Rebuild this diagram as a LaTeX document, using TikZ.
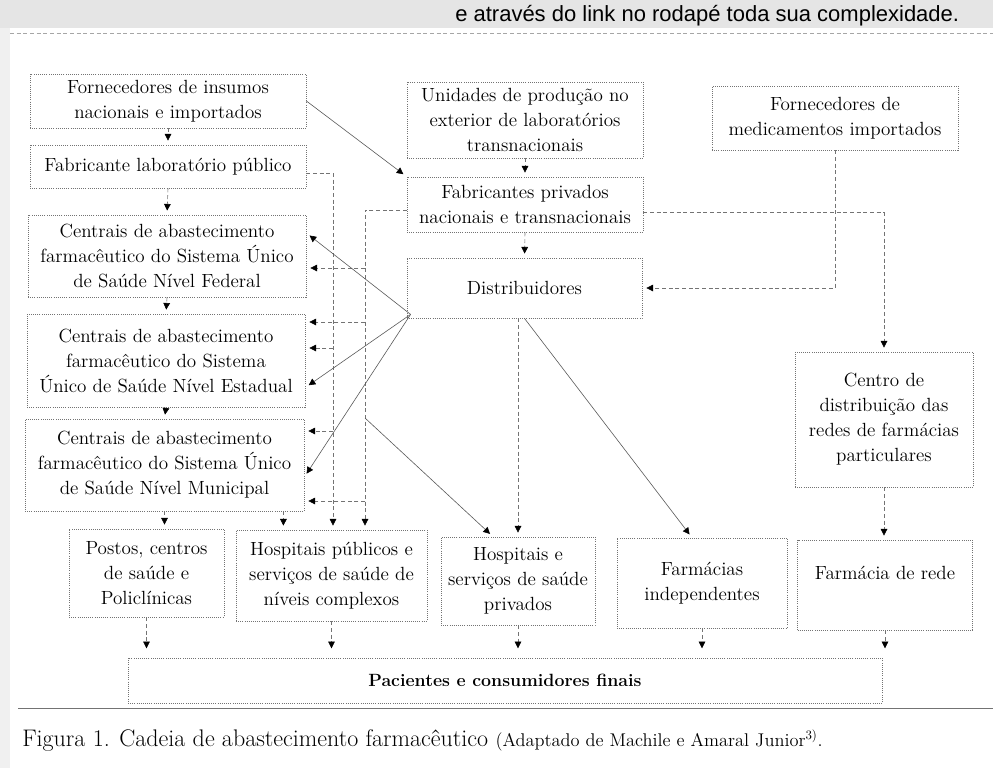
\documentclass[tikz,border=0pt]{standalone}
\usepackage{fontspec}
\newfontfamily\topfont{Liberation Sans}
\usetikzlibrary{arrows.meta,shapes,calc}
\newcommand{\boxfont}{\fontsize{14.3}{18.75}\selectfont}
\tikzstyle{box}=[draw=black!55,densely dotted,line width=0.6pt,align=center,inner sep=2pt,font=\boxfont]
\tikzstyle{edge}=[draw=black!55,line width=0.45pt,densely dashed,-{Triangle[length=5pt,width=5pt,color=black]},shorten >=3pt]
\tikzstyle{diag}=[draw=black!65,line width=0.45pt,-{Triangle[length=5pt,width=5pt,color=black]},shorten >=3pt]

\begin{document}
\begin{tikzpicture}[x=0.75pt,y=-0.75pt]
        \useasboundingbox (0,0) rectangle (993,768);
        % page edge and the line of text above
        \fill[black!10] (0,0) rectangle (993,28);
        \fill[black!6] (0,28) rectangle (10,768);
        \node[anchor=base west,inner sep=0pt,font=\topfont\fontsize{16.5}{18}\selectfont] (topline) at (455,21) {e através do link no rodapé toda sua complexidade.};
        \draw[black!35,densely dashed] (10,33) -- (993,33);
        % public side
        \node[box,minimum width=207pt,minimum height=40.5pt] (insumos) at (168,101) {Fornecedores de insumos\\nacionais e importados};
        \node[box,minimum width=207pt,minimum height=32.25pt] (fablab) at (168,166.5) {Fabricante laboratório público};
        \node[box,minimum width=208.5pt,minimum height=61.5pt] (cfed) at (167,256) {Centrais de abastecimento\\farmacêutico do Sistema Único\\de Saúde Nível Federal};
        \node[box,minimum width=208.5pt,minimum height=69.75pt] (cest) at (166,360.5) {Centrais de abastecimento\\farmacêutico do Sistema\\Único de Saúde Nível Estadual};
        \node[box,minimum width=209.25pt,minimum height=69pt] (cmun) at (164.5,465) {Centrais de abastecimento\\farmacêutico do Sistema Único\\de Saúde Nível Municipal};
        % private side
        \node[box,minimum width=177pt,minimum height=57pt] (unidades) at (525,120) {Unidades de produção no\\exterior de laboratórios\\transnacionais};
        \node[box,minimum width=184.5pt,minimum height=48pt] (fornmed) at (835,118) {Fornecedores de\\medicamentos importados};
        \node[box,minimum width=177pt,minimum height=41.25pt] (fabpriv) at (525,204.5) {Fabricantes privados\\nacionais e transnacionais};
        \node[box,minimum width=176.25pt,minimum height=45pt] (distrib) at (524.5,288) {Distribuidores};
        \node[box,minimum width=133.5pt,minimum height=101.25pt] (centrodist) at (884,419.5) {Centro de\\distribuição das\\redes de farmácias\\particulares};
        % dispensing points
        \node[box,minimum width=116.25pt,minimum height=66pt] (postos) at (146.5,573) {Postos, centros\\de saúde e\\Policlínicas};
        \node[box,minimum width=143.25pt,minimum height=68.25pt] (hpub) at (331.5,575.5) {Hospitais públicos e\\serviços de saúde de\\níveis complexos};
        \node[box,minimum width=115.5pt,minimum height=66pt] (hpriv) at (518,581) {Hospitais e\\serviços de saúde\\privados};
        \node[box,minimum width=127.5pt,minimum height=67.5pt] (findep) at (702,583) {Farmácias\\independentes};
        \node[box,minimum width=131.25pt,minimum height=67.5pt] (frede) at (885,585) {Farmácia de rede\\\mbox{}};
        \node[box,minimum width=565.5pt,minimum height=33.75pt,font=\bfseries\fontsize{13.3}{16}\selectfont] (pacientes) at (505,680.5) {Pacientes e consumidores finais};
        % bus lines
        \coordinate (pubbus) at (333,173);
        \coordinate (privbus) at (365,210);
        \coordinate (privfork) at (365,418);
        \coordinate (distsw) at ($(distrib.south west)+(4,-4)$);
        \coordinate (munhosp) at ($(cmun.south east)+(-21,0)$);
        \coordinate (fedin) at ($(cfed.east)+(0,12)$);
        \coordinate (estin1) at ($(cest.east)+(0,-38.5)$);
        \coordinate (estin2) at ($(cest.east)+(0,-12.5)$);
        \coordinate (munin1) at ($(cmun.east)+(0,-34)$);
        \coordinate (munin2) at ($(cmun.east)+(0,36)$);
        \coordinate (privout) at ($(fabpriv.east)+(0,8)$);
        % chain on the left
        \draw[edge] (insumos.south) to (fablab.north);
        \draw[edge] (fablab.south) to (cfed.north);
        \draw[edge] (cfed.south) to (cest.north);
        \draw[edge] (cest.south) to (cmun.north);
        \draw[edge] (cmun.south) to (cmun.south |- postos.north);
        \draw[edge] (munhosp) to (munhosp |- hpub.north);
        \draw[edge] (fablab.east |- pubbus) -- (pubbus) -- (pubbus |- hpub.north);
        \draw[edge] (fabpriv.west |- privbus) -- (privbus) -- (privbus |- hpub.north);
        \draw[edge] (privbus |- fedin) to (fedin);
        \draw[edge] (privbus |- estin1) to (estin1);
        \draw[edge] (pubbus |- estin2) to (estin2);
        \draw[edge] (pubbus |- munin1) to (munin1);
        \draw[edge] (privbus |- munin2) to (munin2);
        % distributors
        \draw[diag] (distsw) to ($(cfed.east)+(0,-23)$);
        \draw[diag] (distsw) to ($(cest.east)+(0,27)$);
        \draw[diag] (distsw) to ($(cmun.east)+(0,12)$);
        \draw[diag] (privfork) to ($(hpriv.north)+(-25,0)$);
        \draw[edge] (distrib.south -| hpriv.north) to (hpriv.north);
        \draw[diag] (distrib.south) to ($(findep.north)+(-10,0)$);
        % private chain
        \draw[diag] (insumos.east) to (fabpriv.north west);
        \draw[edge] (unidades.south) to (fabpriv.north);
        \draw[edge] (fabpriv.south) to (distrib.north);
        \draw[edge] (fornmed.south) |- (distrib.east);
        \draw[edge] (privout) -| (centrodist.north);
        \draw[edge] (centrodist.south) to (centrodist.south |- frede.north);
        % to the patients
        \draw[edge,shorten >=7pt] (postos.south) to (postos.south |- pacientes.north);
        \draw[edge,shorten >=7pt] (hpub.south) to (hpub.south |- pacientes.north);
        \draw[edge,shorten >=7pt] (hpriv.south) to (hpriv.south |- pacientes.north);
        \draw[edge,shorten >=7pt] (findep.south) to (findep.south |- pacientes.north);
        \draw[edge,shorten >=7pt] (frede.south) to (frede.south |- pacientes.north);
        % caption
        \draw[black!55,line width=0.6pt] (18,708) -- (993,708);
        \node[anchor=base west,inner sep=0pt,font=\fontsize{18}{20}\selectfont] (caption) at (22,746) {Figura 1. Cadeia de abastecimento farmacêutico {\fontsize{13.8}{15}\selectfont (Adaptado de Machile e Amaral Junior\textsuperscript{3)}.}};
\end{tikzpicture}
\end{document}
